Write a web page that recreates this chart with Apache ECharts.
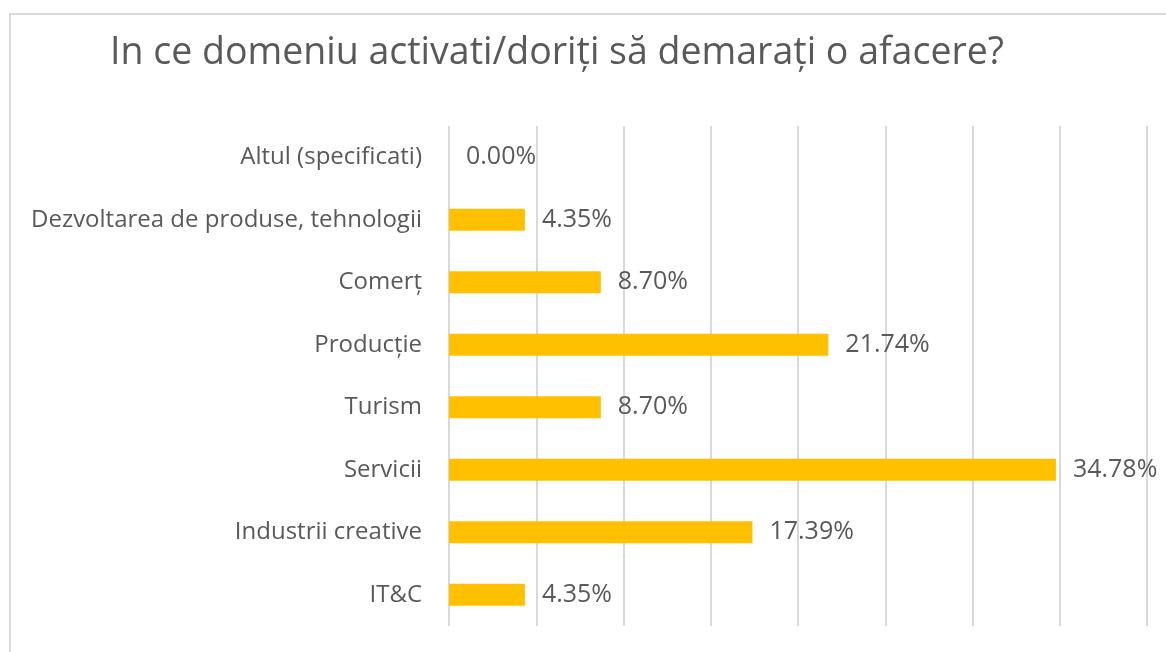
<!DOCTYPE html>
<html lang="ro">
<head>
    <meta charset="UTF-8">
    <title>In ce domeniu activati</title>
    <script src="https://cdn.jsdelivr.net/npm/echarts@6/dist/echarts.min.js"></script>
    <style>
        html, body { margin: 0; padding: 0; background: #fff; }
    </style>
</head>
<body>
    <div id="main" style="width: 1166px;height:652px;"></div>
    <script type="text/javascript">
        // categories listed bottom -> top (ECharts draws first category at the bottom)
        var categories = ['IT&C', 'Industrii creative', 'Servicii', 'Turism', 'Producție', 'Comerț', 'Dezvoltarea de produse, tehnologii', 'Altul (specificati)'];
        var percentages = [4.35, 17.39, 34.78, 8.70, 21.74, 8.70, 4.35, 0.00];

        var myChart = echarts.init(document.getElementById('main'));
        var font = '"Open Sans", "Noto Sans", sans-serif';

        var option = {
            animation: false,
            title: {
                text: 'In ce domeniu activati/doriți să demarați o afacere?',
                left: 105,
                top: 29,
                textStyle: {
                    color: '#595959',
                    fontSize: 37.5,
                    fontWeight: 'normal',
                    fontFamily: font
                }
            },
            graphic: [{
                type: 'rect',
                shape: { x: 10, y: 14, width: 1300, height: 800 },
                style: { fill: 'none', stroke: '#d9d9d9', lineWidth: 2 },
                silent: true
            }],
            grid: {
                left: 449,
                right: 19,
                top: 126,
                bottom: 26
            },
            xAxis: {
                type: 'value',
                min: 0,
                max: 40,
                interval: 5,
                axisLabel: { show: false },
                axisLine: { show: false },
                axisTick: { show: false },
                splitLine: {
                    lineStyle: { color: '#d9d9d9', width: 2 }
                }
            },
            yAxis: {
                type: 'category',
                data: categories,
                axisLine: { show: false },
                axisTick: { show: false },
                axisLabel: {
                    color: '#595959',
                    fontSize: 24,
                    fontFamily: font,
                    margin: 27
                }
            },
            series: [{
                type: 'bar',
                data: percentages,
                barWidth: 22,
                itemStyle: { color: '#ffc000' },
                label: {
                    show: true,
                    position: 'right',
                    distance: 17,
                    color: '#595959',
                    fontSize: 25,
                    fontFamily: font,
                    formatter: function (p) { return p.value.toFixed(2) + '%'; }
                }
            }]
        };

        myChart.setOption(option);
    </script>
</body>
</html>
